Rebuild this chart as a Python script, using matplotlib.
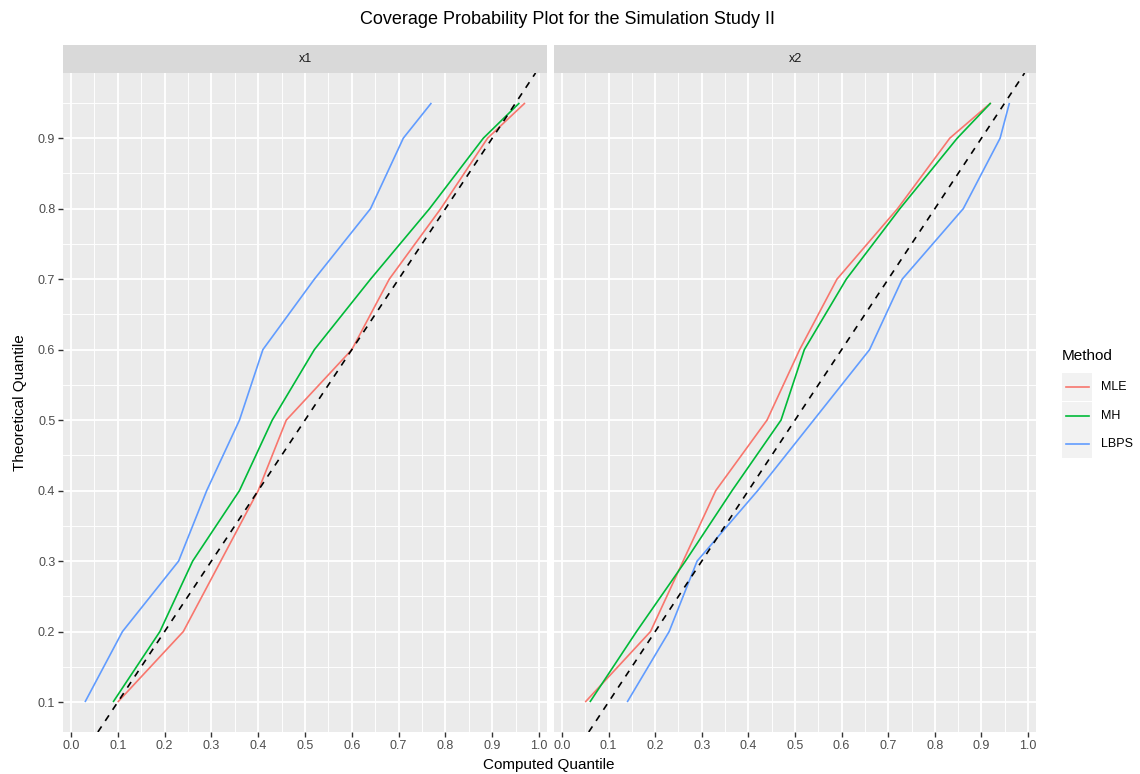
import numpy as np
import matplotlib.pyplot as plt
from matplotlib.lines import Line2D
from matplotlib.patches import Rectangle

plt.rcParams['font.family'] = ['Liberation Sans', 'DejaVu Sans']

# theoretical quantiles shared by every curve
theo = [0.1, 0.2, 0.3, 0.4, 0.5, 0.6, 0.7, 0.8, 0.9, 0.95]

methods = ['MLE', 'MH', 'LBPS']
colors = ['#F8766D', '#00BA38', '#619CFF']
panels = ['x1', 'x2']

# computed quantiles, panel x1
x1_mle = [0.10, 0.24, 0.32, 0.40, 0.46, 0.60, 0.68, 0.79, 0.89, 0.97]
x1_mh = [0.09, 0.19, 0.26, 0.36, 0.43, 0.52, 0.64, 0.766, 0.881, 0.958]
x1_lbps = [0.03, 0.11, 0.23, 0.29, 0.36, 0.41, 0.52, 0.64, 0.71, 0.77]

# computed quantiles, panel x2
x2_mle = [0.05, 0.19, 0.26, 0.33, 0.44, 0.51, 0.59, 0.72, 0.832, 0.92]
x2_mh = [0.06, 0.16, 0.265, 0.365, 0.47, 0.52, 0.61, 0.725, 0.848, 0.92]
x2_lbps = [0.14, 0.23, 0.29, 0.42, 0.54, 0.66, 0.73, 0.861, 0.94, 0.96]

data = {
    'x1': [x1_mle, x1_mh, x1_lbps],
    'x2': [x2_mle, x2_mh, x2_lbps],
}

W, H = 1140, 774
fig = plt.figure(figsize=(W / 100, H / 100), dpi=100)


def px(x0, y0, x1, y1):
    # pixel box (top-left origin) -> figure fraction rect
    return [x0 / W, 1 - y1 / H, (x1 - x0) / W, (y1 - y0) / H]


# ggplot style 5% expansion of the data range
allx = np.concatenate([np.array(v) for p in panels for v in data[p]])
ally = np.array(theo)
ex = 0.05 * (allx.max() - allx.min())
ey = 0.05 * (ally.max() - ally.min())
xlim = (allx.min() - ex, allx.max() + ex)
ylim = (ally.min() - ey, ally.max() + ey)

boxes = [(63, 73, 547, 732), (554, 73, 1036, 732)]
for i, (name, box) in enumerate(zip(panels, boxes)):
    ax = fig.add_axes(px(*box))
    ax.set_facecolor('#EBEBEB')
    ax.set_xlim(xlim)
    ax.set_ylim(ylim)
    xt = np.round(np.arange(0, 1.01, 0.1), 2)
    yt = np.round(np.arange(0.1, 0.91, 0.1), 2)
    ax.set_xticks(xt)
    ax.set_xticklabels([f'{v:.1f}' for v in xt])
    ax.set_xticks(np.arange(0.05, 1.0, 0.1), minor=True)
    ax.set_yticks(yt)
    ax.set_yticks(np.arange(0.15, 0.96, 0.1), minor=True)
    ax.set_yticklabels([f'{v:.1f}' for v in yt])
    ax.grid(which='major', color='white', lw=1.3)
    ax.grid(which='minor', color='white', lw=0.65)
    ax.set_axisbelow(True)
    for s in ax.spines.values():
        s.set_visible(False)
    ax.tick_params(which='minor', length=0)
    ax.tick_params(which='major', length=3.5, width=1, color='#333333',
                   labelsize=9, labelcolor='#4D4D4D', pad=2)
    if i == 1:
        ax.tick_params(axis='y', left=False, labelleft=False)

    for vals, c in zip(data[name], colors):
        ax.plot(vals, theo, color=c, lw=1.2, solid_capstyle='butt')
    # y = x reference
    ax.axline((0, 0), slope=1, color='black', lw=1.2, ls=(0, (4, 4)))

    # facet strip
    sx0, _, sx1, _ = box
    sax = fig.add_axes(px(sx0, 45, sx1, 73))
    sax.set_facecolor('#D9D9D9')
    sax.set_xticks([])
    sax.set_yticks([])
    for s in sax.spines.values():
        s.set_visible(False)
    sax.text(0.5, 0.5, name, ha='center', va='center', fontsize=9,
             color='#1A1A1A', transform=sax.transAxes)

fig.text(567 / W, 1 - 20 / H, 'Coverage Probability Plot for the Simulation Study II',
         ha='center', va='center', fontsize=13, color='black')
fig.text(549 / W, 1 - 765 / H, 'Computed Quantile', ha='center', va='center',
         fontsize=11, color='black')
fig.text(20 / W, 1 - 403 / H, 'Theoretical Quantile', ha='center', va='center',
         rotation=90, fontsize=11, color='black')

# legend
fig.text(1062 / W, 1 - 356 / H, 'Method', ha='left', va='center', fontsize=11)
key_y = [387, 416, 444]
for m, c, ky in zip(methods, colors, key_y):
    fig.add_artist(Rectangle((1062 / W, 1 - (ky + 14) / H), 30 / W, 28 / H,
                             transform=fig.transFigure, facecolor='#F2F2F2',
                             edgecolor='none'))
    fig.add_artist(Line2D([1066 / W, 1089 / W], [1 - ky / H, 1 - ky / H],
                          transform=fig.transFigure, color=c, lw=1.2))
    fig.text(1101 / W, 1 - ky / H, m, ha='left', va='center', fontsize=9)

fig.savefig('out.png', dpi=100)
